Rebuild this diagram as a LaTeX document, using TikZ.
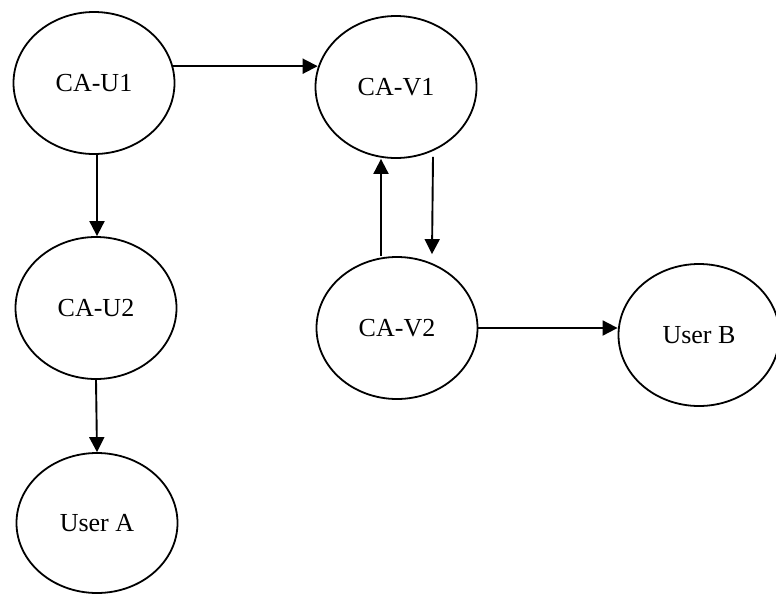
\documentclass[tikz,border=0pt]{standalone}
\usepackage{fontspec}
\setmainfont{Liberation Serif}
\usetikzlibrary{arrows.meta,calc,shapes.geometric}
\begin{document}
\begin{tikzpicture}[x=1pt,y=-1pt,
  ca/.style={draw,ellipse,line width=1.8pt,minimum width=161pt,minimum height=142pt,inner sep=0pt,
    font=\fontsize{26}{30}\selectfont},
  arr/.style={line width=1.9pt,-{Triangle[length=15pt,width=15pt]}}]
\useasboundingbox (0,0) rectangle (776,595);
\node[ca] (u1) at (94,83) {CA-U1};
\node[ca] (v1) at (396,87) {CA-V1};
\node[ca] (u2) at (96,308) {CA-U2};
\node[ca] (v2) at (397,328) {CA-V2};
\node[ca] (ub) at (699,335) {User B};
\node[ca,minimum height=140pt] (ua) at (97,523) {User A};
\draw[arr] (u1.12) -- (u1.12 -| v1.166);
\draw[arr] ($(u1.south)+(3,0)$) -- ($(u2.north)+(1,0)$);
\draw[arr] (u2.south) -- (ua.north);
\draw[arr] ($(v2.north)+(-16,0)$) -- ($(v1.south)+(-15,0)$);
\draw[arr] ($(v1.south)+(37,-2)$) -- ($(v2.north)+(35,-2)$);
\draw[arr] (v2.east) -- (v2.east -| ub.west);
\end{tikzpicture}
\end{document}
